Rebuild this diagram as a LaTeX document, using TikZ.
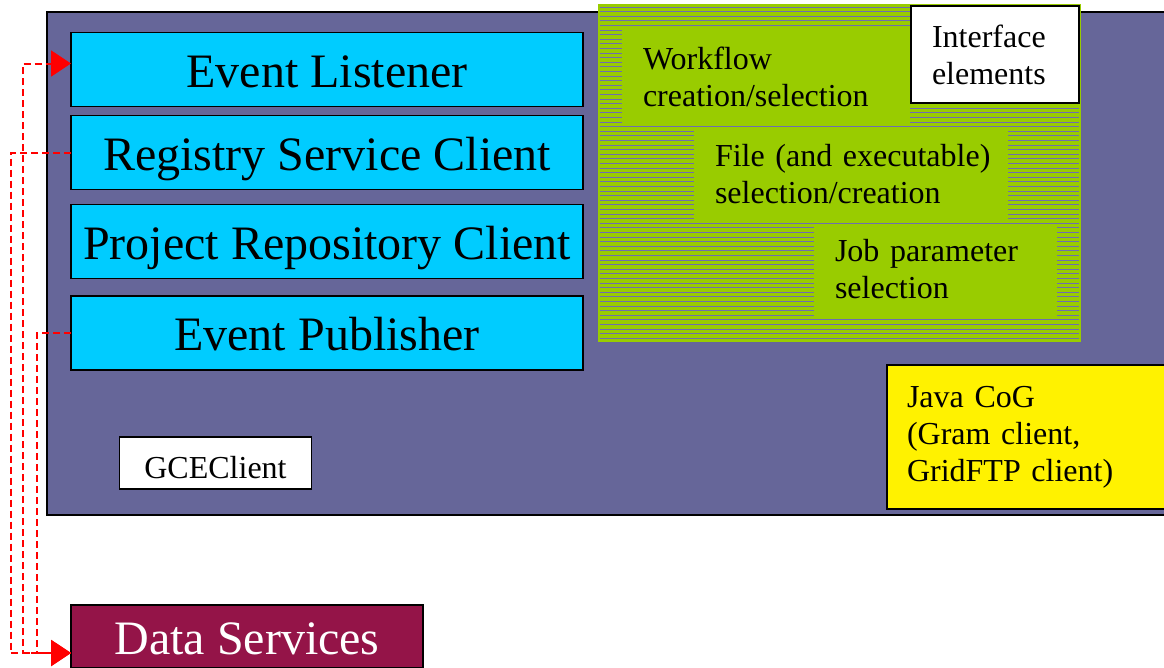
\documentclass[tikz,border=0pt]{standalone}
\usepackage{fontspec}
\setmainfont{Liberation Serif}
\usetikzlibrary{arrows.meta}
\definecolor{panelblue}{RGB}{102,102,153}
\definecolor{clientcyan}{RGB}{0,204,255}
\definecolor{uigreen}{RGB}{153,204,0}
\definecolor{hatchline}{RGB}{110,110,175}
\definecolor{datared}{RGB}{148,20,72}
\tikzstyle{every node}=[outer sep=0pt]
\tikzstyle{client}=[draw, line width=1.2pt, fill=clientcyan, minimum width=512pt, minimum height=74pt, text height=35pt, text depth=0pt, font=\fontsize{48}{50}\selectfont]
\tikzstyle{region}=[fill=uigreen, align=left, inner xsep=21pt, font=\fontsize{32}{37}\selectfont]
\tikzstyle{link}=[red, line width=2pt, dash pattern=on 7pt off 4pt, -{Triangle[length=20pt,width=26pt]}]

\begin{document}
\begin{tikzpicture}[x=1pt, y=-1pt]
\useasboundingbox (0,0) rectangle (1164,667);
% Client panel
    \node[draw, line width=1.2pt, fill=panelblue, minimum width=1153pt, minimum height=503pt] (panel) at (623.5,263.5) {};
    \node[client] (listener) at (327,69.5) {Event Listener};
    \node[client] (registry) at (327,152.5) {Registry Service Client};
    \node[client] (repository) at (327,241.5) {Project Repository Client};
    \node[client] (publisher) at (327,333) {Event Publisher};
    \node[draw, line width=1.2pt, fill=white, minimum width=192pt, minimum height=52pt, text height=30pt, text depth=0pt, font=\fontsize{32}{37}\selectfont] (gce) at (215.5,463) {GCEClient};
% Interface elements
    \fill[uigreen] (598,4) rectangle (1081,342);
    \foreach \i in {0,...,72}
        \draw[hatchline, line width=0.8pt] (600,{7+4.6*\i}) -- (1079,{7+4.6*\i});
    \node[region, minimum width=288pt, minimum height=95pt, text width=246pt] (workflow) at (766,77) {Workflow\\creation/selection};
    \node[region, minimum width=314pt, minimum height=93pt, text width=272pt] (files) at (851,174) {\mbox{File (and executable)}\\selection/creation};
    \node[region, minimum width=243pt, minimum height=92pt, text width=201pt] (job) at (935.5,269.5) {Job parameter\\selection};
    \node[region, draw, line width=1.2pt, fill=white, minimum width=168pt, minimum height=97pt, text width=126pt] (legend) at (995,54.5) {Interface\\elements};
% Grid toolkit
    \node[region, draw, line width=1.2pt, fill=yellow, inner xsep=20pt, minimum width=313pt, minimum height=144pt, text width=273pt] (cog) at (1043.5,437) {Java CoG\\(Gram client,\\GridFTP client)};
% Data services
    \node[draw, line width=1.2pt, fill=datared, text=white, minimum width=352pt, minimum height=63pt, text height=35pt, text depth=0pt, font=\fontsize{48}{50}\selectfont] (data) at (247,636.5) {Data Services};
% Links
    \draw[link] ([yshift=-16.5pt]data.west) -- ++(-48,0) |- ([yshift=6pt]listener.west);
    \draw[link] (registry.west) -- ++(-60,0) |- ([yshift=-16.5pt]data.west);
    \draw[link] (publisher.west) -- ++(-34,0) |- ([yshift=-16.5pt]data.west);
\end{tikzpicture}
\end{document}
